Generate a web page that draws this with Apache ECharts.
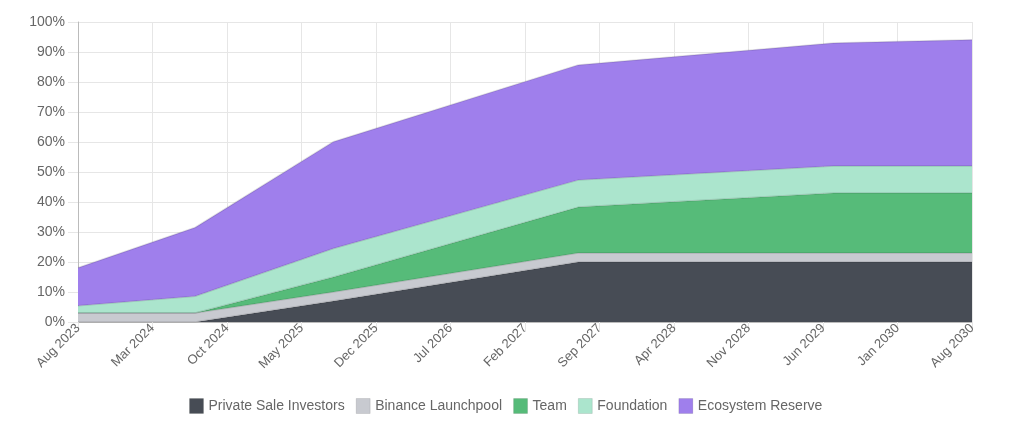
<!DOCTYPE html>
<html>
<head>
<meta charset="utf-8">
<script src="https://cdn.jsdelivr.net/npm/echarts@6/dist/echarts.min.js"></script>
<style>
html,body{margin:0;padding:0;background:#fff;}
#c{width:1024px;height:445px;}
</style>
</head>
<body>
<div id="c"></div>
<script>
// Months since Aug 2023
const months = [0, 11, 24, 47, 71, 84];
const privateSale = [0, 0, 7, 20, 20, 20];
const binance = [3, 3, 3, 3, 3, 3];
const team = [0, 0, 5, 15.3, 20, 20];
const foundation = [2.4, 5.6, 9.5, 9, 9, 9];
const ecosystem = [12.7, 22.9, 35.6, 38.4, 41, 42.1];
const seriesNames = ['Private Sale Investors', 'Binance Launchpool', 'Team', 'Foundation', 'Ecosystem Reserve'];
const monthNames = ['Jan','Feb','Mar','Apr','May','Jun','Jul','Aug','Sep','Oct','Nov','Dec'];
const startYear = 2023, startMonth = 7; // Aug 2023

const colors = ['#474c55', '#c8cad0', '#56bb79', '#abe5cd', '#9f7fec'];
const values = [privateSale, binance, team, foundation, ecosystem];

function monthLabel(v) {
  const total = startMonth + Math.round(v);
  return monthNames[total % 12] + ' ' + (startYear + Math.floor(total / 12));
}

const chart = echarts.init(document.getElementById('c'), null, {renderer: 'canvas'});
const font = '"Liberation Sans", Arial, Helvetica, sans-serif';
chart.setOption({
  animation: false,
  grid: {left: 78, right: 52, top: 22, bottom: 123, containLabel: false},
  legend: {
    left: 184,
    top: 393,
    itemWidth: 14,
    itemHeight: 15,
    itemGap: 11,
    textStyle: {color: '#666', fontSize: 14, fontFamily: font},
    data: seriesNames.map(function (n, i) {
      return {name: n, icon: 'rect', itemStyle: {color: colors[i], borderColor: 'rgba(0,0,0,0.1)', borderWidth: 1}};
    })
  },
  xAxis: {
    type: 'value',
    min: 0, max: 84, interval: 7,
    axisLine: {show: true, lineStyle: {color: '#bbb', width: 1}},
    axisTick: {show: true, length: 10, lineStyle: {color: '#e6e6e6'}},
    splitLine: {show: true, lineStyle: {color: '#e6e6e6'}},
    axisLabel: {
      rotate: 45, margin: 4, color: '#666', fontSize: 13, fontFamily: font,
      formatter: monthLabel
    }
  },
  yAxis: {
    type: 'value',
    min: 0, max: 100, interval: 10,
    axisLine: {show: true, lineStyle: {color: '#bbb', width: 1}},
    axisTick: {show: true, length: 10, lineStyle: {color: '#e6e6e6'}},
    splitLine: {show: true, lineStyle: {color: '#e6e6e6'}},
    axisLabel: {margin: 13, color: '#666', fontSize: 14, fontFamily: font, formatter: '{value}%'}
  },
  series: seriesNames.map(function (n, i) {
    return {
      name: n,
      type: 'line',
      stack: 'total',
      showSymbol: false,
      symbol: 'none',
      // data stored as [value, month] so the stacked dimension is the value
      encode: {x: 1, y: 0},
      data: months.map(function (m, j) { return [values[i][j], m]; }),
      lineStyle: {color: 'rgba(0,0,0,0.12)', width: 1.5},
      itemStyle: {color: colors[i]},
      areaStyle: {color: colors[i], opacity: 1},
      z: 2
    };
  })
});
</script>
</body>
</html>
